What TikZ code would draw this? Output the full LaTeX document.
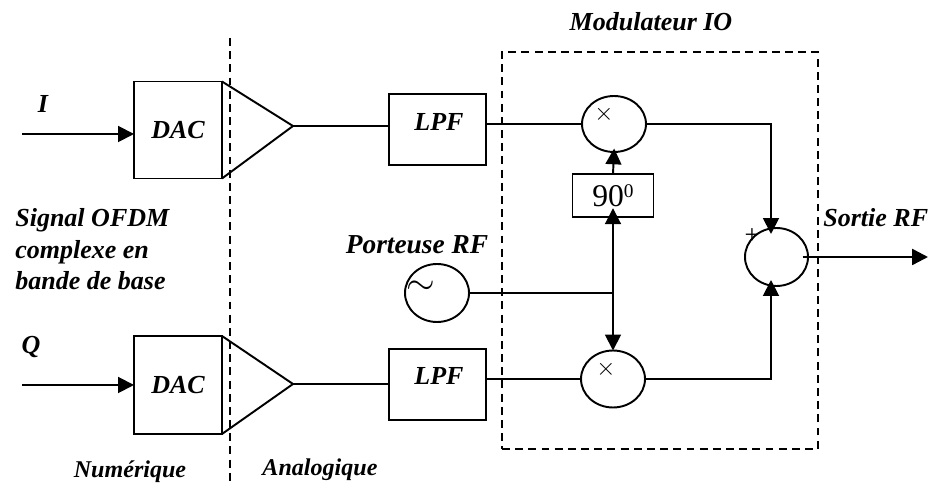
\documentclass[tikz,border=0pt]{standalone}
\usepackage{fontspec}
\setmainfont{Liberation Serif}
\usetikzlibrary{arrows.meta, shapes.geometric}

\tikzset{
	bloc/.style = {draw, line width=1.1pt, inner sep=0pt, outer sep=0pt},
	rond/.style = {draw, ellipse, line width=1.1pt, inner sep=0pt, outer sep=0pt},
	lbl/.style = {font=\fontsize{14.8}{18}\selectfont\bfseries\itshape, inner sep=0pt},
	petit/.style = {font=\fontsize{13.7}{16}\selectfont\bfseries\itshape, inner sep=0pt},
	fil/.style = {line width=1.1pt},
	fleche/.style = {line width=1.1pt, -{Triangle[length=9pt, width=9pt]}},
	pointille/.style = {line width=1.2pt, dash pattern=on 4.5pt off 3pt}
}

\begin{document}
\begin{tikzpicture}[x=0.02cm, y=-0.02cm]
	\useasboundingbox (0, 0) rectangle (931, 486); %same size as the picture, 1 unit = 1 pixel

	\coordinate (digiHaut) at (230, 38);
	\coordinate (digiBas) at (230, 486);
	\draw [pointille] (digiHaut) -- (digiBas); %border digital / analog
	\node [draw, pointille, minimum width=6.32cm, minimum height=7.94cm, inner sep=0pt] (modulateur) at (660, 250.5) {};

	%upper branch
	\node [bloc, lbl, minimum width=1.76cm, minimum height=1.94cm] (dacI) at (178, 130) {DAC};
	\coordinate (ampI) at (293, 126);
	\draw [fil] (dacI.north east) -- (ampI) -- (dacI.south east); %triangle of the amplifier
	\node [bloc, minimum width=1.94cm, minimum height=1.42cm] (lpfI) at (437.5, 129.5) {};
	\node [lbl] (lpfItexte) at (439, 122) {LPF};
	\node [rond, minimum width=1.28cm, minimum height=1.12cm] (mixI) at (614, 124) {};
	\node [inner sep=0pt, scale=1.4] (foisI) at (604, 114) {$\times$};
	\node [bloc, minimum width=1.62cm, minimum height=0.86cm] (phase) at (613, 195.5) {\fontsize{18}{20}\selectfont 90\raisebox{0.65ex}{\fontsize{11}{12}\selectfont 0}};

	%lower branch
	\node [bloc, lbl, minimum width=1.76cm, minimum height=1.96cm] (dacQ) at (178, 385) {DAC};
	\coordinate (ampQ) at (293, 384);
	\draw [fil] (dacQ.north east) -- (ampQ) -- (dacQ.south east);
	\node [bloc, minimum width=1.94cm, minimum height=1.42cm] (lpfQ) at (437.5, 384.5) {};
	\node [lbl] (lpfQtexte) at (439, 376) {LPF};
	\node [rond, minimum width=1.28cm, minimum height=1.14cm] (mixQ) at (613, 379) {};
	\node [inner sep=0pt, scale=1.4] (foisQ) at (606, 369) {$\times$};

	%carrier and sum
	\node [rond, minimum width=1.28cm, minimum height=1.16cm] (porteuse) at (437, 293) {};
	\node [inner sep=0pt, scale=2.1] (tilde) at (421, 288) {$\sim$};
	\node [rond, minimum width=1.26cm, minimum height=1.16cm] (somme) at (776.5, 257) {};
	\node [inner sep=0pt] (plus) at (752, 236) {\fontsize{15}{16}\selectfont +};

	\coordinate (entreeI) at (22, 134);
	\coordinate (entreeQ) at (22, 385);
	\coordinate (jonction) at (613, 293);
	\coordinate (sommeHaut) at (771, 234);
	\coordinate (sommeBas) at (771, 280);
	\coordinate (sortie) at (928, 257);

	\draw [fleche] (entreeI) -- (entreeI -| dacI.west);
	\draw [fleche] (entreeQ) -- (entreeQ -| dacQ.west);
	\draw [fil] (ampI) -- (ampI -| lpfI.west);
	\draw [fil] (ampQ) -- (ampQ -| lpfQ.west);
	\draw [fil] (mixI.west -| lpfI.east) -- (mixI.west);
	\draw [fil] (mixQ.west -| lpfQ.east) -- (mixQ.west);
	\draw [fil] (porteuse.east) -- (jonction);
	\draw [fleche, shorten >=-5pt] (jonction) -- (phase.south);
	\draw [fleche, shorten >=-2pt] (phase.north) -- (mixI.south);
	\draw [fleche] (jonction) -- (mixQ.north);
	\draw [fleche] (mixI.east) -| (sommeHaut);
	\draw [fleche] (mixQ.east) -| (sommeBas);
	\draw [fleche, line width=1.4pt] ([xshift=-3pt]somme.east) -- (sortie);

	%labels
	\node [lbl] (labelI) at (43, 104) {I};
	\node [lbl] (labelQ) at (31, 347) {Q};
	\node [lbl, align=left, anchor=north west] (signal) at (15, 208) {Signal OFDM \\ complexe en \\ bande de base};
	\node [lbl, font=\fontsize{15.6}{18}\selectfont\bfseries\itshape] (labelPorteuse) at (417, 245) {Porteuse RF};
	\node [lbl] (labelMod) at (651, 22) {Modulateur IO};
	\node [lbl, anchor=west] (labelSortie) at (823, 218) {Sortie RF};
	\node [petit] (labelNum) at (130, 472) {Numérique};
	\node [petit] (labelAna) at (320, 470) {Analogique};
\end{tikzpicture}
\end{document}
